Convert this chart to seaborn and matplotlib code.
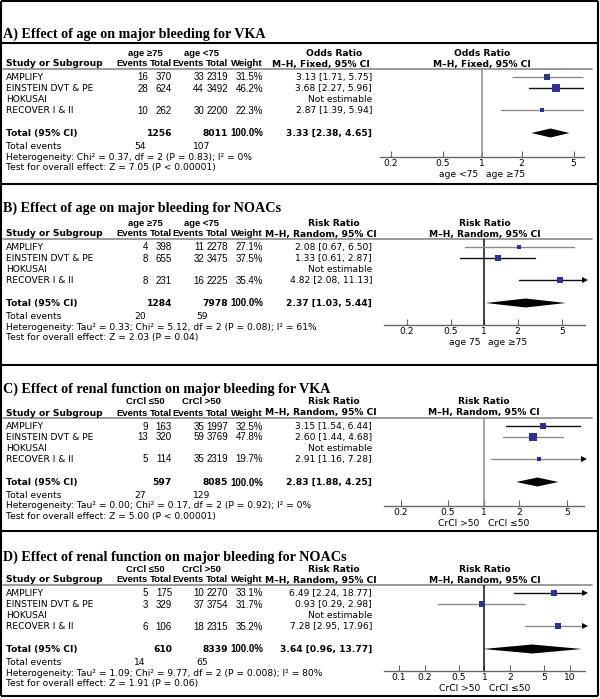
import matplotlib
matplotlib.use("Agg")
import matplotlib.pyplot as plt
from matplotlib.ticker import NullLocator
import seaborn as sns

# ---- data ----
studies = ["AMPLIFY", "EINSTEIN DVT & PE", "HOKUSAI", "RECOVER I & II"]

# A) age, VKA
a_ev1 = [16, 28, None, 10]
a_tot1 = [370, 624, None, 262]
a_ev2 = [33, 44, None, 30]
a_tot2 = [2319, 3492, None, 2200]
a_weight = [31.5, 46.2, None, 22.3]
a_est = [3.13, 3.68, None, 2.87]
a_lo = [1.71, 2.27, None, 1.39]
a_hi = [5.75, 5.96, None, 5.94]
a_total = [1256, 8011, 3.33, 2.38, 4.65]
a_events = [54, 107]

# B) age, NOACs
b_ev1 = [4, 8, None, 8]
b_tot1 = [398, 655, None, 231]
b_ev2 = [11, 32, None, 16]
b_tot2 = [2278, 3475, None, 2225]
b_weight = [27.1, 37.5, None, 35.4]
b_est = [2.08, 1.33, None, 4.82]
b_lo = [0.67, 0.61, None, 2.08]
b_hi = [6.50, 2.87, None, 11.13]
b_total = [1284, 7978, 2.37, 1.03, 5.44]
b_events = [20, 59]

# C) renal function, VKA
c_ev1 = [9, 13, None, 5]
c_tot1 = [163, 320, None, 114]
c_ev2 = [35, 59, None, 35]
c_tot2 = [1997, 3769, None, 2319]
c_weight = [32.5, 47.8, None, 19.7]
c_est = [3.15, 2.60, None, 2.91]
c_lo = [1.54, 1.44, None, 1.16]
c_hi = [6.44, 4.68, None, 7.28]
c_total = [597, 8085, 2.83, 1.88, 4.25]
c_events = [27, 129]

# D) renal function, NOACs
d_ev1 = [5, 3, None, 6]
d_tot1 = [175, 329, None, 106]
d_ev2 = [10, 37, None, 18]
d_tot2 = [2270, 3754, None, 2315]
d_weight = [33.1, 31.7, None, 35.2]
d_est = [6.49, 0.93, None, 7.28]
d_lo = [2.24, 0.29, None, 2.95]
d_hi = [18.77, 2.98, None, 17.96]
d_total = [610, 8339, 3.64, 0.96, 13.77]
d_events = [14, 65]

titles = ["A) Effect of age on major bleeding for VKA",
          "B) Effect of age on major bleeding for NOACs",
          "C) Effect of renal function on major bleeding for VKA",
          "D) Effect of renal function on major bleeding for NOACs"]
groups = [["age \u226575", "age <75"], ["age \u226575", "age <75"],
          ["CrCl \u226450", "CrCl >50"], ["CrCl \u226450", "CrCl >50"]]
favours = [["age <75", "age \u226575"], ["age 75", "age \u226575"],
           ["CrCl >50", "CrCl \u226450"], ["CrCl >50", "CrCl \u226450"]]
measures = ["Odds Ratio", "Risk Ratio", "Risk Ratio", "Risk Ratio"]
methods = ["M\u2013H, Fixed, 95% CI", "M\u2013H, Random, 95% CI",
           "M\u2013H, Random, 95% CI", "M\u2013H, Random, 95% CI"]
heterogeneity = [
    "Heterogeneity: Chi\u00b2 = 0.37, df = 2 (P = 0.83); I\u00b2 = 0%",
    "Heterogeneity: Tau\u00b2 = 0.33; Chi\u00b2 = 5.12, df = 2 (P = 0.08); I\u00b2 = 61%",
    "Heterogeneity: Tau\u00b2 = 0.00; Chi\u00b2 = 0.17, df = 2 (P = 0.92); I\u00b2 = 0%",
    "Heterogeneity: Tau\u00b2 = 1.09; Chi\u00b2 = 9.77, df = 2 (P = 0.008); I\u00b2 = 80%"]
overall = ["Test for overall effect: Z = 7.05 (P < 0.00001)",
           "Test for overall effect: Z = 2.03 (P = 0.04)",
           "Test for overall effect: Z = 5.00 (P < 0.00001)",
           "Test for overall effect: Z = 1.91 (P = 0.06)"]
ticks = [[0.2, 0.5, 1, 2, 5], [0.2, 0.5, 1, 2, 5], [0.2, 0.5, 1, 2, 5],
         [0.1, 0.2, 0.5, 1, 2, 5, 10]]
tick_labels = [["0.2", "0.5", "1", "2", "5"], ["0.2", "0.5", "1", "2", "5"],
               ["0.2", "0.5", "1", "2", "5"],
               ["0.1", "0.2", "0.5", "1", "2", "5", "10"]]
xlims = [(0.166, 6.0), (0.125, 8.1), (0.144, 7.0), (0.067, 15.0)]

panels = [
    (a_ev1, a_tot1, a_ev2, a_tot2, a_weight, a_est, a_lo, a_hi, a_total, a_events),
    (b_ev1, b_tot1, b_ev2, b_tot2, b_weight, b_est, b_lo, b_hi, b_total, b_events),
    (c_ev1, c_tot1, c_ev2, c_tot2, c_weight, c_est, c_lo, c_hi, c_total, c_events),
    (d_ev1, d_tot1, d_ev2, d_tot2, d_weight, d_est, d_lo, d_hi, d_total, d_events),
]

# ---- layout (pixels, top-down) ----
W, H = 600, 699
title_y = [34, 208.5, 389.5, 557.5]
hdr_y = [63, 233, 412, 579]
axis_y = [157, 325, 506, 671]
plot_x = [(380, 584), (384, 585), (384, 584), (384, 585)]
borders = [1, 43, 184, 365, 531, 696]
row_off = [14.5, 25.5, 36.5, 47.5]
vline_col = ["#8a8a8a", "#111111", "#8a8a8a", "#111111"]
ci_cols = [["#8a8a8a", "#111111", None, "#8a8a8a"],
           ["#8a8a8a", "#111111", None, "#111111"],
           ["#111111", "#8a8a8a", None, "#8a8a8a"],
           ["#111111", "#8a8a8a", None, "#8a8a8a"]]
sq_col = "#2e3192"

sns.set_theme(style="white")
sans = ["DejaVu Sans"]
arial = ["Liberation Sans", "DejaVu Sans"]
serif = ["Liberation Serif", "DejaVu Serif"]
plt.rcParams["font.family"] = sans
plt.rcParams["text.color"] = "black"
plt.rcParams["xtick.labelcolor"] = "black"
FS = 6.6

fig = plt.figure(figsize=(W / 100, H / 100), dpi=100)
bg = fig.add_axes([0, 0, 1, 1])
bg.set_xlim(0, W)
bg.set_ylim(H, 0)
bg.axis("off")

for yb in borders:
    bg.plot([1, 598], [yb, yb], color="black", lw=1.5, solid_capstyle="butt")
for xb in (1, 598):
    bg.plot([xb, xb], [1, 696], color="black", lw=1.5, solid_capstyle="butt")

cols = dict(ev1=148, tot1=172, ev2=204, tot2=228, weight=263, est=372)


def fmt(v):
    return "" if v is None else str(v)


for i, (ev1, tot1, ev2, tot2, wt, est, lo, hi, total, events) in enumerate(panels):
    h2 = hdr_y[i] + 1
    h1 = h2 - 11
    rule = hdr_y[i] + 6
    px0, px1 = plot_x[i]
    pxc = (px0 + px1) / 2
    kw = dict(fontsize=FS, va="center")
    bkw = dict(fontsize=FS, va="center", fontweight="bold")
    nkw = dict(fontsize=7, va="center", family=arial)
    nbkw = dict(fontsize=6.8, va="center", fontweight="bold", family=arial)

    bg.text(3, title_y[i], titles[i], family=serif, fontsize=10.2,
            fontweight="bold", va="center", ha="left")

    # column headers
    bg.text(145, h1, groups[i][0], ha="center", **nbkw)
    bg.text(201, h1, groups[i][1], ha="center", **nbkw)
    bg.text(334, h1, measures[i], ha="center", **bkw)
    bg.text(pxc, h1, measures[i], ha="center", **bkw)
    bg.text(6, h2, "Study or Subgroup", ha="left", **bkw)
    bg.text(cols["ev1"], h2, "Events", ha="right", **nbkw)
    bg.text(cols["tot1"], h2, "Total", ha="right", **nbkw)
    bg.text(cols["ev2"], h2, "Events", ha="right", **nbkw)
    bg.text(cols["tot2"], h2, "Total", ha="right", **nbkw)
    bg.text(cols["weight"], h2, "Weight", ha="right", **nbkw)
    bg.text(321, h2, methods[i], ha="center", **bkw)
    bg.text(pxc, h2, methods[i], ha="center", **bkw)
    bg.plot([3, 592], [rule, rule], color="#8a8a8a", lw=1.2)

    # study rows
    for j, name in enumerate(studies):
        y = hdr_y[i] + row_off[j]
        bg.text(6, y, name, ha="left", **kw)
        if est[j] is None:
            bg.text(cols["est"], y, "Not estimable", ha="right", **kw)
            continue
        bg.text(cols["ev1"], y, fmt(ev1[j]), ha="right", **nkw)
        bg.text(cols["tot1"], y, fmt(tot1[j]), ha="right", **nkw)
        bg.text(cols["ev2"], y, fmt(ev2[j]), ha="right", **nkw)
        bg.text(cols["tot2"], y, fmt(tot2[j]), ha="right", **nkw)
        bg.text(cols["weight"], y, f"{wt[j]:.1f}%", ha="right", **nkw)
        bg.text(cols["est"], y, f"{est[j]:.2f} [{lo[j]:.2f}, {hi[j]:.2f}]",
                ha="right", **kw)

    ty = hdr_y[i] + 70.5
    bg.text(6, ty, "Total (95% CI)", ha="left", **bkw)
    bg.text(cols["tot1"], ty, str(total[0]), ha="right", **bkw)
    bg.text(cols["tot2"], ty, str(total[1]), ha="right", **bkw)
    bg.text(cols["weight"], ty, "100.0%", ha="right", fontsize=7,
            va="center", fontweight="bold", family=arial)
    bg.text(cols["est"], ty, f"{total[2]:.2f} [{total[3]:.2f}, {total[4]:.2f}]",
            ha="right", **bkw)
    bg.text(6, hdr_y[i] + 83.5, "Total events", ha="left", **kw)
    bg.text(140, hdr_y[i] + 83.5, str(events[0]), ha="center", **kw)
    bg.text(202, hdr_y[i] + 83.5, str(events[1]), ha="center", **kw)
    bg.text(6, hdr_y[i] + 94, heterogeneity[i], ha="left", **kw)
    bg.text(6, hdr_y[i] + 104.5, overall[i], ha="left", **kw)

    # forest plot
    ax = fig.add_axes([px0 / W, 1 - axis_y[i] / H, (px1 - px0) / W,
                       (axis_y[i] - rule) / H])
    ax.patch.set_alpha(0)
    ax.set_xscale("log")
    ax.set_xlim(*xlims[i])
    ax.set_ylim(axis_y[i], rule)
    ax.axvline(1, color=vline_col[i], lw=1.1)
    xmax = xlims[i][1]
    for j in range(len(studies)):
        if est[j] is None:
            continue
        y = hdr_y[i] + row_off[j] - 1
        c = ci_cols[i][j]
        ax.plot([lo[j], min(hi[j], xmax)], [y, y], color=c, lw=1)
        if hi[j] > xmax:
            ax.plot([xmax], [y], marker=">", ms=4, color="black", mew=0,
                    clip_on=False)
        side = wt[j] * 0.16 / 1.389
        ax.scatter([est[j]], [y], marker="s", s=side ** 2, color=sq_col,
                   linewidths=0, zorder=3)
    dy = ty - 0.5
    ax.fill([total[3], total[2], total[4], total[2]],
            [dy, dy - 4.5, dy, dy + 4.5], color="black", lw=0, zorder=3)

    sns.despine(ax=ax, left=True)
    ax.spines["bottom"].set_color("#666666")
    ax.spines["bottom"].set_linewidth(1)
    ax.set_yticks([])
    ax.set_xticks(ticks[i])
    ax.set_xticklabels(tick_labels[i])
    ax.xaxis.set_minor_locator(NullLocator())
    ax.tick_params(axis="x", direction="in", length=4, width=0.8,
                   color="#666666", labelsize=FS, pad=1.5, bottom=True)
    ax.annotate(favours[i][0], xy=(1, 0), xycoords=("data", "axes fraction"),
                xytext=(-3, -12.5), textcoords="offset points", ha="right",
                va="center", fontsize=FS)
    ax.annotate(favours[i][1], xy=(1, 0), xycoords=("data", "axes fraction"),
                xytext=(3, -12.5), textcoords="offset points", ha="left",
                va="center", fontsize=FS)

fig.savefig("out.png", dpi=100)
